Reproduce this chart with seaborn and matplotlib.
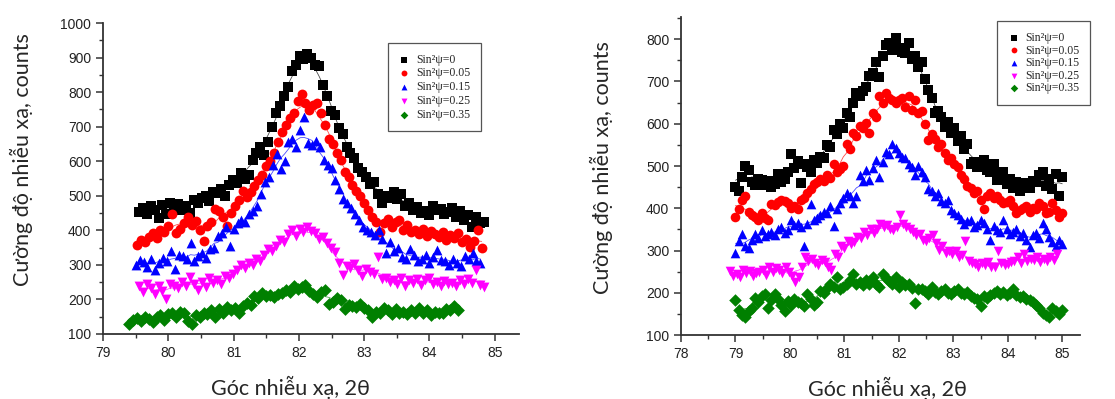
import numpy as np
import pandas as pd
import seaborn as sns
import matplotlib.pyplot as plt
from matplotlib.ticker import MultipleLocator

sns.set_style("ticks")
plt.rcParams['font.family'] = ['Lato', 'Open Sans', 'DejaVu Sans']

labels = ["Sin²ψ=0", "Sin²ψ=0.05", "Sin²ψ=0.15", "Sin²ψ=0.25", "Sin²ψ=0.35"]
colors = ["#000000", "#ff0000", "#0000ff", "#ff00ff", "#008000"]
markers = ["s", "o", "^", "v", "D"]
step = 0.06

# ---- left panel (2θ start of each series, intensity in counts)
left_start = [79.55, 79.52, 79.50, 79.55, 79.40]
left_0 = [452, 465, 448, 470, 460, 436, 472, 448, 480, 462,
          475, 458, 470, 450, 488, 478, 495, 500, 485, 510,
          508, 520, 500, 530, 545, 538, 565, 550, 560, 605,
          625, 640, 618, 655, 700, 740, 760, 790, 815, 860,
          880, 905, 895, 912, 900, 880, 875, 820, 790, 745,
          735, 695, 680, 640, 625, 610, 580, 570, 555, 535,
          540, 505, 480, 500, 495, 510, 490, 505, 470, 480,
          460, 468, 450, 455, 445, 470, 458, 462, 448, 452,
          465, 440, 455, 430, 445, 410, 440, 420, 425]
left_005 = [358, 372, 365, 380, 392, 378, 402, 396, 412, 448,
            392, 405, 420, 438, 415, 428, 400, 368, 412, 425,
            462, 455, 440, 412, 450, 470, 488, 515, 498, 510,
            528, 545, 560, 585, 600, 625, 655, 685, 705, 725,
            740, 775, 795, 770, 748, 762, 770, 740, 705, 665,
            650, 625, 605, 570, 555, 530, 515, 500, 480, 460,
            440, 425, 395, 420, 432, 410, 425, 430, 400, 415,
            395, 402, 390, 405, 385, 398, 390, 380, 395, 372,
            388, 378, 392, 365, 375, 352, 370, 400, 350]
left_015 = [300, 315, 308, 295, 318, 286, 305, 320, 310, 340,
            288, 330, 325, 318, 362, 312, 325, 335, 320, 345,
            350, 385, 392, 410, 355, 405, 420, 430, 425, 448,
            455, 470, 505, 540, 555, 590, 620, 578, 600, 655,
            665, 640, 690, 728, 652, 648, 660, 640, 605, 590,
            580, 545, 520, 490, 478, 465, 448, 430, 410, 402,
            395, 388, 402, 375, 335, 365, 340, 350, 322, 318,
            345, 328, 310, 318, 330, 305, 322, 344, 315, 310,
            300, 318, 305, 296, 325, 318, 335, 310, 305]
left_025 = [240, 222, 245, 232, 215, 238, 225, 200, 246, 240,
            232, 250, 238, 265, 245, 228, 250, 235, 262, 248,
            255, 245, 268, 262, 275, 285, 300, 292, 306, 300,
            318, 310, 330, 345, 340, 355, 372, 365, 390, 400,
            385, 405, 395, 410, 398, 392, 375, 380, 362, 350,
            338, 305, 270, 298, 290, 302, 285, 268, 288, 280,
            275, 322, 258, 262, 250, 255, 245, 262, 240, 255,
            248, 260, 242, 255, 262, 245, 250, 238, 252, 245,
            248, 240, 255, 245, 258, 248, 285, 242, 235]
left_035 = [128, 140, 145, 138, 150, 142, 135, 148, 155, 140,
            158, 162, 148, 165, 160, 138, 128, 155, 148, 162,
            158, 168, 150, 172, 160, 178, 168, 175, 162, 182,
            190, 185, 210, 205, 218, 210, 212, 208, 215, 220,
            228, 222, 238, 230, 235, 242, 225, 215, 208, 222,
            228, 188, 192, 205, 198, 172, 185, 180, 178, 188,
            175, 170, 148, 165, 160, 175, 168, 158, 172, 160,
            165, 158, 170, 162, 175, 160, 168, 155, 165, 162,
            160, 172, 168, 182, 170]

# ---- right panel
right_start = [79.00, 79.00, 79.00, 78.90, 79.00]
right_0 = [450, 440, 475, 500, 490, 462, 455, 470, 468, 455,
           465, 450, 458, 482, 462, 470, 485, 528, 495, 512,
           460, 505, 498, 485, 515, 508, 522, 520, 550, 545,
           585, 575, 600, 590, 625, 615, 648, 672, 665, 678,
           688, 712, 720, 745, 710, 760, 785, 790, 775, 802,
           780, 770, 768, 790, 752, 760, 735, 745, 705, 680,
           660, 625, 630, 615, 592, 605, 578, 590, 560, 570,
           540, 552, 505, 510, 498, 500, 515, 490, 485, 505,
           468, 480, 485, 458, 470, 448, 462, 442, 455, 460,
           448, 465, 462, 478, 485, 452, 470, 445, 482, 430, 475]
right_005 = [380, 398, 420, 428, 392, 385, 380, 372, 388, 376,
             372, 410, 408, 415, 420, 418, 412, 400, 405, 398,
             420, 425, 435, 445, 458, 462, 470, 465, 478, 472,
             505, 485, 492, 500, 552, 540, 578, 570, 595, 590,
             602, 578, 625, 615, 665, 650, 672, 660, 655, 648,
             655, 662, 640, 665, 632, 655, 625, 630, 600, 562,
             575, 565, 545, 552, 530, 515, 520, 505, 498, 478,
             470, 452, 448, 435, 440, 420, 398, 430, 435, 425,
             428, 420, 412, 415, 420, 405, 388, 395, 400, 405,
             392, 400, 398, 412, 405, 388, 392, 412, 395, 380, 388]
right_015 = [295, 322, 340, 312, 305, 325, 340, 330, 348, 335,
             340, 345, 338, 350, 355, 342, 348, 372, 360, 365,
             355, 312, 362, 410, 372, 378, 385, 392, 388, 405,
             358, 398, 412, 425, 435, 430, 412, 428, 478, 465,
             490, 468, 495, 515, 475, 510, 532, 528, 552, 542,
             530, 522, 518, 505, 498, 478, 500, 485, 475, 445,
             440, 428, 435, 418, 412, 420, 395, 388, 385, 375,
             362, 370, 372, 355, 360, 372, 365, 350, 325, 358,
             348, 345, 372, 352, 340, 345, 350, 335, 342, 325,
             308, 338, 342, 330, 365, 352, 332, 320, 310, 325, 315]
right_025 = [252, 240, 245, 238, 255, 248, 252, 240, 246, 250,
             255, 242, 262, 250, 258, 254, 248, 262, 250, 240,
             226, 238, 262, 285, 275, 280, 270, 265, 278, 272,
             262, 255, 292, 285, 310, 305, 322, 315, 320, 332,
             330, 345, 338, 350, 342, 352, 362, 355, 360, 350,
             348, 355, 385, 362, 356, 350, 345, 338, 340, 325,
             322, 330, 338, 318, 302, 310, 295, 298, 292, 300,
             285, 290, 322, 275, 270, 268, 262, 270, 265, 272,
             260, 262, 300, 270, 265, 268, 272, 275, 285, 270,
             292, 275, 280, 278, 285, 272, 280, 276, 285, 278, 292]
right_035 = [182, 160, 148, 142, 158, 165, 188, 178, 192, 198,
             165, 182, 198, 185, 172, 158, 180, 172, 185, 178,
             175, 168, 198, 185, 172, 178, 205, 200, 212, 222,
             215, 238, 208, 215, 222, 230, 245, 220, 225, 218,
             230, 222, 238, 220, 215, 245, 235, 228, 222, 238,
             215, 225, 218, 222, 212, 175, 208, 210, 205, 198,
             215, 202, 198, 205, 210, 200, 198, 205, 208, 200,
             198, 202, 192, 188, 185, 168, 192, 188, 195, 200,
             205, 198, 202, 195, 200, 208, 195, 190, 192, 185,
             182, 178, 172, 165, 152, 148, 142, 165, 158, 150, 160]

left_series = [left_0, left_005, left_015, left_025, left_035]
right_series = [right_0, right_005, right_015, right_025, right_035]

fig = plt.figure(figsize=(11.15, 3.99), dpi=100)
ax1 = fig.add_axes([0.0924, 0.163, 0.373, 0.779])
ax2 = fig.add_axes([0.6108, 0.160, 0.358, 0.797])


def draw(ax, starts, series, msize):
    for st, ys, lab, c, m in zip(starts, series, labels, colors, markers):
        xs = np.round(st + step * np.arange(len(ys)), 3)
        df = pd.DataFrame({"x": xs, "y": ys})
        df["fit"] = df["y"].rolling(7, center=True, min_periods=1).mean()
        sz = msize * 0.85 if m == "D" else msize
        sns.scatterplot(data=df, x="x", y="y", ax=ax, color=c, marker=m,
                        s=sz, linewidth=0, label=lab, zorder=2)
        sns.lineplot(data=df, x="x", y="fit", ax=ax, color=c, lw=0.6,
                     alpha=0.7, zorder=3, legend=False)


draw(ax1, left_start, left_series, 50)
draw(ax2, right_start, right_series, 48)

ax1.set_xlim(79, 85.37)
ax1.set_ylim(100, 1000)
ax2.set_xlim(78, 85.33)
ax2.set_ylim(100, 852)

for ax in (ax1, ax2):
    sns.despine(ax=ax)
    ax.xaxis.set_major_locator(MultipleLocator(1))
    ax.xaxis.set_minor_locator(MultipleLocator(0.5))
    ax.yaxis.set_major_locator(MultipleLocator(100))
    ax.yaxis.set_minor_locator(MultipleLocator(50))
    ax.tick_params(which="major", direction="out", length=5, width=1.1,
                   color="#333333", labelsize=10, labelcolor="#222222")
    ax.tick_params(which="minor", direction="out", length=3, width=1.0,
                   color="#333333")
    for lab in ax.get_xticklabels() + ax.get_yticklabels():
        lab.set_family("Liberation Sans")
    for sp in ax.spines.values():
        sp.set_linewidth(1.3)
        sp.set_color("#333333")
    ax.set_xlabel("Góc nhiễu xạ, 2θ", fontsize=15.5)
    ax.set_ylabel("Cường độ nhiễu xạ, counts", fontsize=15.5)

ax1.xaxis.set_label_coords(0.45, -0.135)
ax1.yaxis.set_label_coords(-0.168, 0.56)
ax2.xaxis.set_label_coords(0.518, -0.13)
ax2.yaxis.set_label_coords(-0.170, 0.528)

leg_kw = dict(loc="upper right", frameon=True, fancybox=False, framealpha=1,
              edgecolor="#555555", prop={"family": "Liberation Serif", "size": 8.5},
              handlelength=1.0, handletextpad=0.5, borderaxespad=0,
              markerscale=0.6)
leg1 = ax1.legend(bbox_to_anchor=(0.909, 0.936), borderpad=0.9,
                  labelspacing=0.15, **leg_kw)
leg2 = ax2.legend(bbox_to_anchor=(1.025, 0.987), borderpad=0.9,
                  labelspacing=0.05, **leg_kw)
for leg in (leg1, leg2):
    leg.get_frame().set_linewidth(0.9)

fig.savefig("out.png", dpi=100)
